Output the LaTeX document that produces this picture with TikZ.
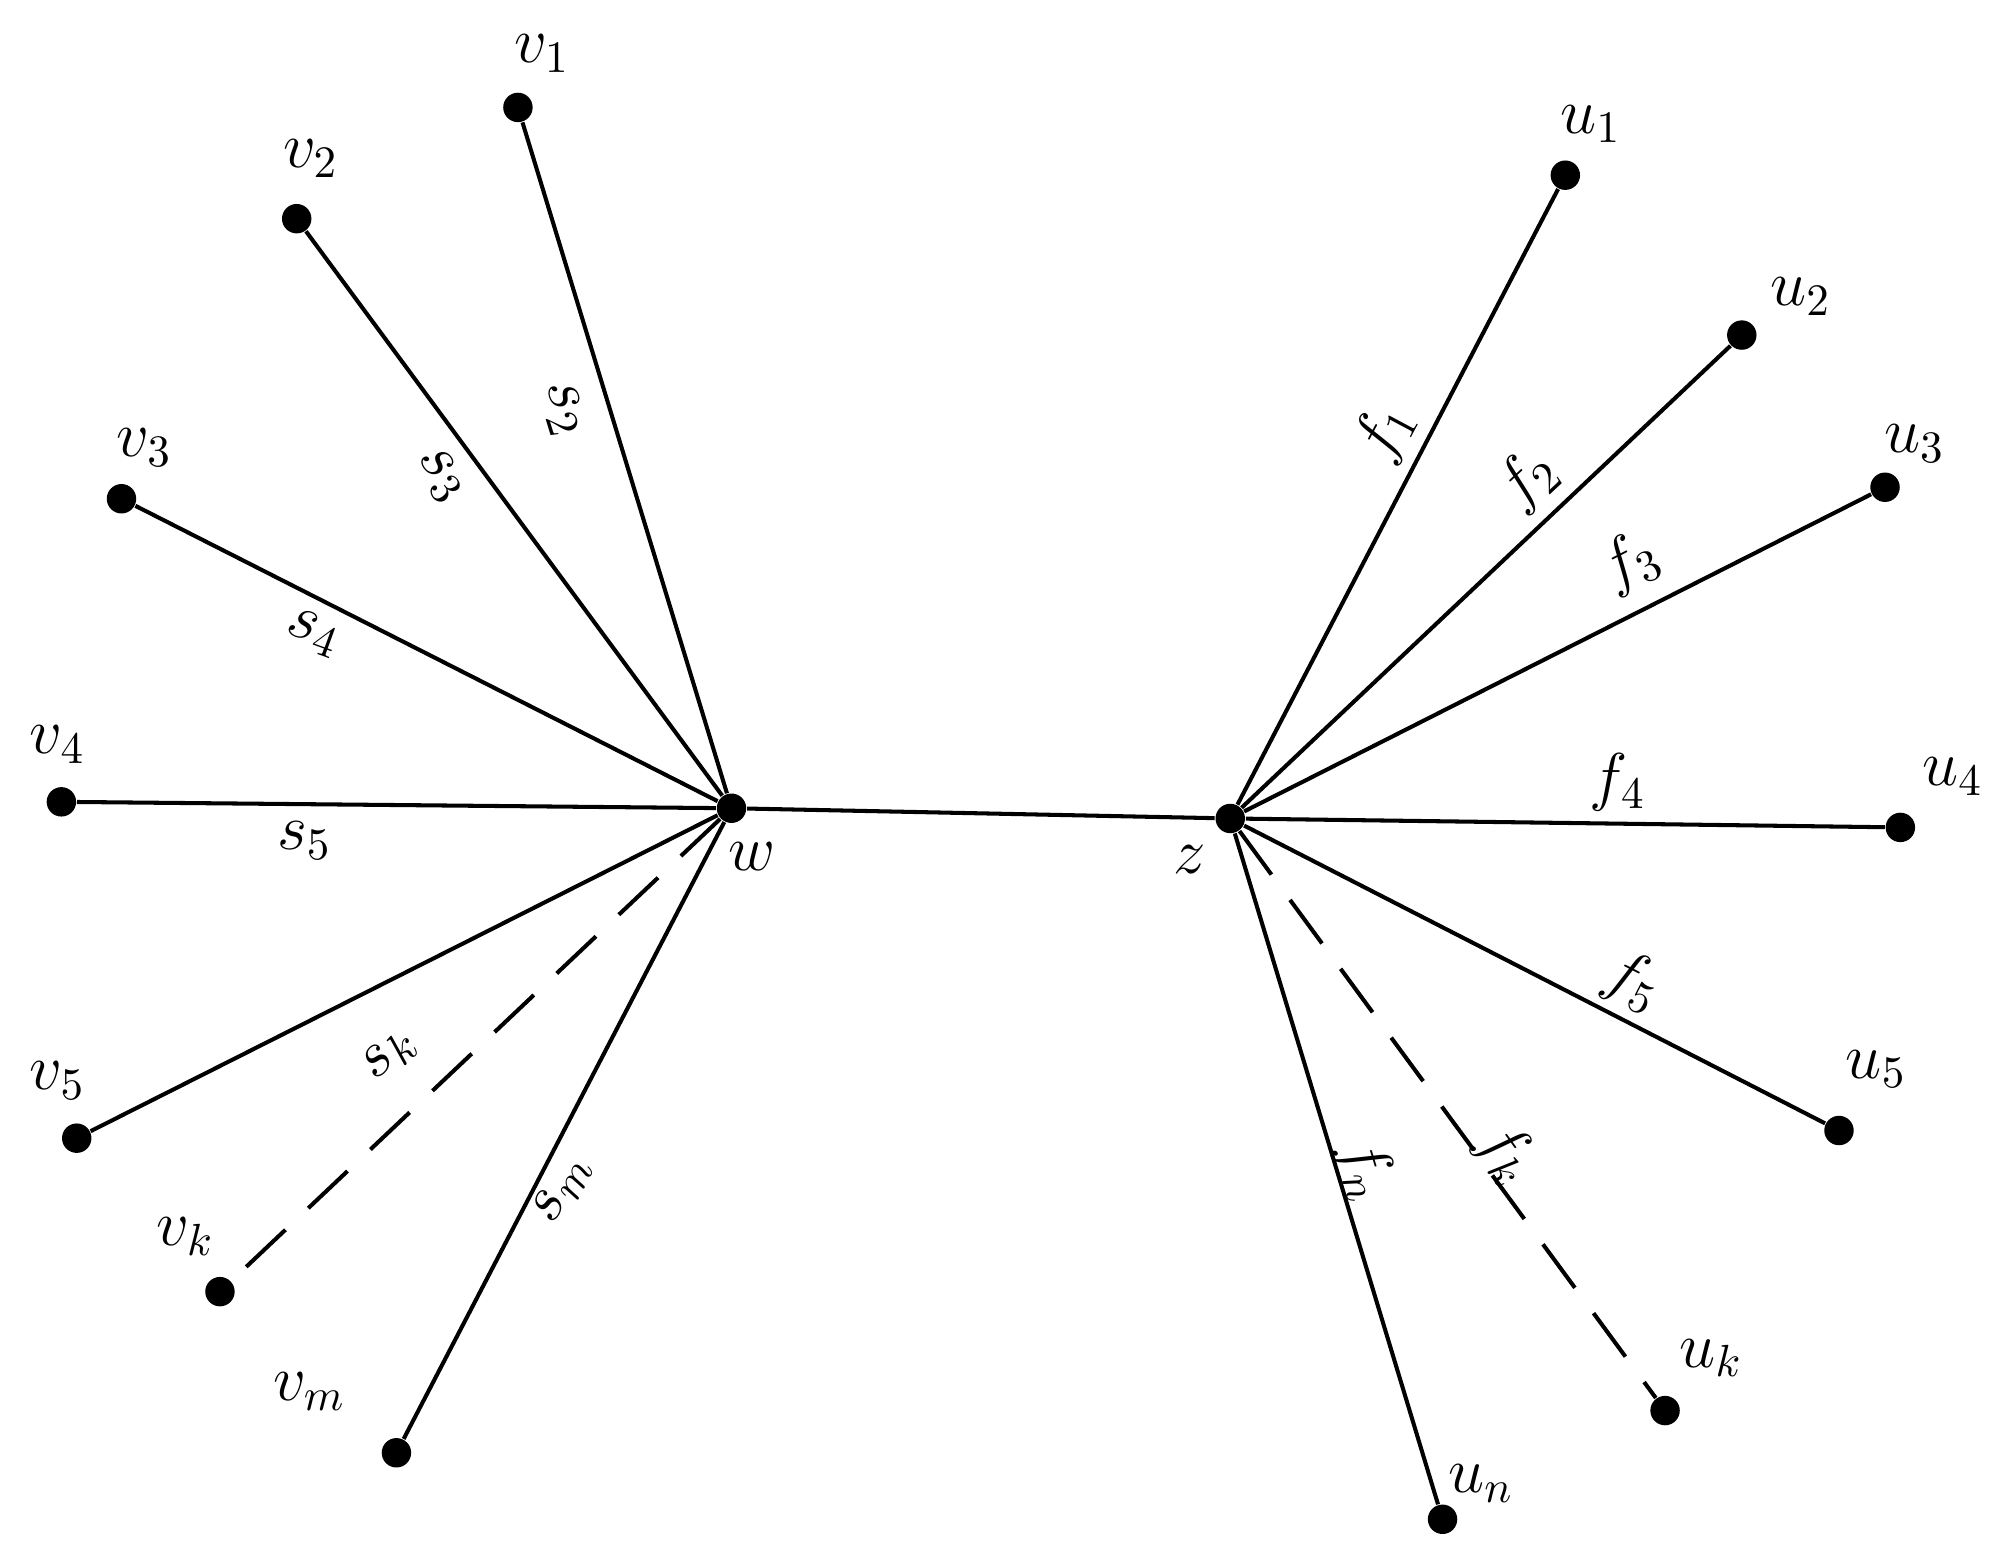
\documentclass[tikz,border=0pt]{standalone}
\begin{document}
\begin{tikzpicture}[x=0.01cm,y=-0.01cm,
  dot/.style={circle,fill=black,inner sep=0pt,minimum size=0.23cm},
  edge/.style={line width=0.9pt},
  lab/.style={font=\Large}]
\useasboundingbox (0,0) rectangle (1560,1212);
\node[dot] (w) at (572,632) {};
\node[dot] (z) at (962,640) {};
\foreach \n/\x/\y in {v1/405/84,v2/232/171,v3/95/390,v4/48/627,v5/60/890,vk/172/1010,vm/310/1136,
  u1/1224/137,u2/1362/262,u3/1474/381,u4/1486/647,u5/1438/884,uk/1302/1103,un/1128/1188}
  \node[dot] (\n) at (\x,\y) {};
\draw[edge] (w) -- (z);
\foreach \n in {v1,v2,v3,v4,v5,vm} \draw[edge] (w) -- (\n);
\draw[edge,dashed,dash pattern=on 12pt off 7pt] (w) -- (vk);
\foreach \n in {u1,u2,u3,u4,u5,un} \draw[edge] (z) -- (\n);
\draw[edge,dashed,dash pattern=on 12pt off 7pt] (z) -- (uk);
% vertex labels
\node[lab] (lv1) at (424,42) {$v_1$};
\node[lab] (lv2) at (243,124) {$v_2$};
\node[lab] (lv3) at (113,350) {$v_3$};
\node[lab] (lv4) at (45,582) {$v_4$};
\node[lab] (lv5) at (45,845) {$v_5$};
\node[lab] (lvk) at (145,967) {$v_k$};
\node[lab] (lvm) at (242,1088) {$v_m$};
\node[lab] (lu1) at (1244,97) {$u_1$};
\node[lab] (lu2) at (1408,232) {$u_2$};
\node[lab] (lu3) at (1497,347) {$u_3$};
\node[lab] (lu4) at (1527,607) {$u_4$};
\node[lab] (lu5) at (1467,836) {$u_5$};
\node[lab] (luk) at (1338,1062) {$u_k$};
\node[lab] (lun) at (1158,1160) {$u_n$};
\node[lab] (lw) at (588,670) {$w$};
\node[lab] (lz) at (930,672) {$z$};
% edge labels
\node[lab,rotate=-73] (s2) at (440,320) {$s_2$};
\node[lab,rotate=-54] (s3) at (345,372) {$s_3$};
\node[lab,rotate=-20] (s4) at (245,495) {$s_4$};
\node[lab] (s5) at (238,657) {$s_5$};
\node[lab,rotate=43] (sk) at (305,825) {$s_k$};
\node[lab,rotate=62] (sm) at (440,930) {$s_m$};
\node[lab,rotate=62] (f1) at (1083,338) {$f_1$};
\node[lab,rotate=43] (f2) at (1195,375) {$f_2$};
\node[lab,rotate=27] (f3) at (1275,440) {$f_3$};
\node[lab] (f4) at (1265,612) {$f_4$};
\node[lab,rotate=-27] (f5) at (1277,768) {$f_5$};
\node[lab,rotate=-54] (fk) at (1178,902) {$f_k$};
\node[lab,rotate=-73] (fn) at (1068,915) {$f_n$};
\end{tikzpicture}
\end{document}
